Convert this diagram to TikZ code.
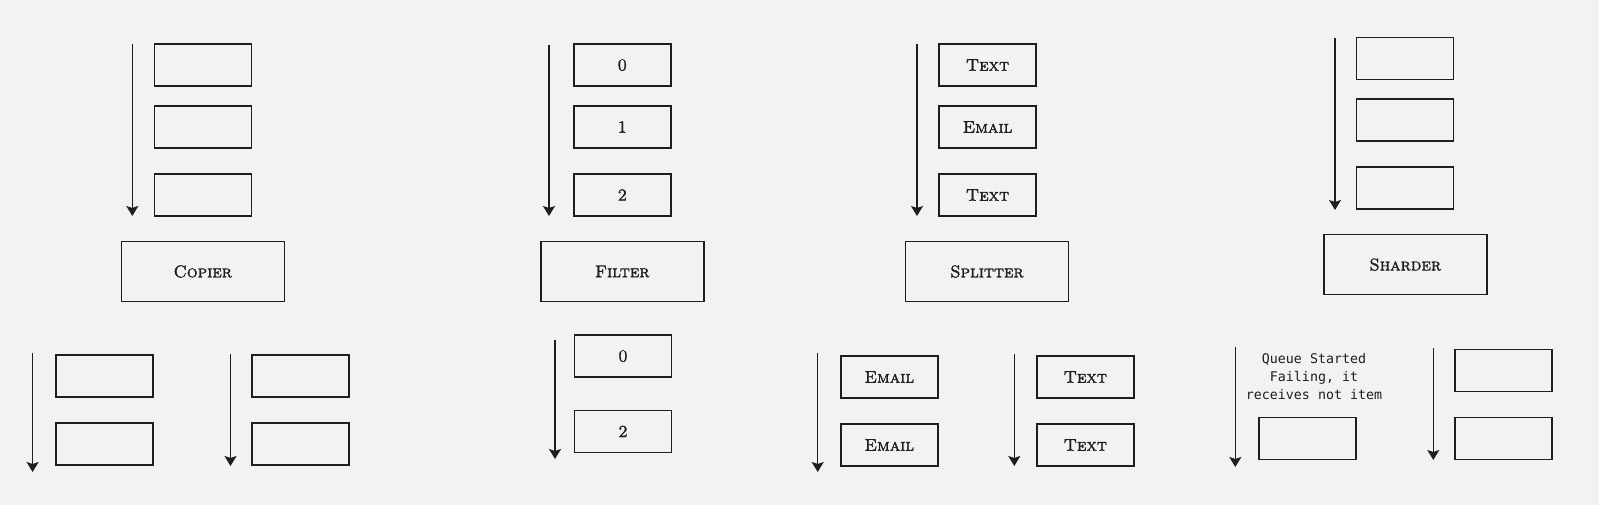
\documentclass[tikz,border=0pt]{standalone}
\usepackage{fontspec}
\newfontfamily\monofont{DejaVu Sans Mono}
\newfontfamily\handfont[FakeBold=1.6]{lmromancaps10-regular.otf}
\usetikzlibrary{arrows.meta}
\definecolor{bg}{HTML}{F2F2F2}
\definecolor{ink}{HTML}{1E1E1E}
\tikzset{
  item/.style={draw=ink, line width=1.5pt, rectangle, minimum width=97pt, minimum height=42pt, inner sep=0pt,
    font=\fontsize{17}{20}\handfont, text=ink},
  proc/.style={draw=ink, line width=1.5pt, rectangle, minimum width=163pt, minimum height=60pt, inner sep=0pt,
    font=\fontsize{17}{20}\handfont, text=ink},
  flow/.style={draw=ink, line width=1.4pt, -{Stealth[width=12pt,length=10pt,inset=2pt]}},
  note/.style={align=center, font=\fontsize{13.3}{18}\selectfont\monofont, text=ink, inner sep=0pt}
}
\begin{document}
\begin{tikzpicture}[x=1pt,y=-1pt]
\fill[bg] (0,0) rectangle (1599,505);
\useasboundingbox (0,0) rectangle (1599,505);
% ---- Copier column
\coordinate (ca1) at (132.3,44); \coordinate (ca2) at (132.3,216);
\draw[flow] (ca1) -- (ca2);
\node[item] (c1) at (202.8,65) {};
\node[item] (c2) at (202.8,127) {};
\node[item] (c3) at (202.8,195) {};
\node[proc] (copier) at (202.8,271.5) {Copier};
\coordinate (cb1) at (32.6,353); \coordinate (cb2) at (32.6,472);
\draw[flow] (cb1) -- (cb2);
\node[item] (co1) at (104.5,376) {};
\node[item] (co2) at (104.5,444) {};
\coordinate (cc1) at (230.5,354); \coordinate (cc2) at (230.5,466);
\draw[flow] (cc1) -- (cc2);
\node[item] (co3) at (300.4,376) {};
\node[item] (co4) at (300.4,444) {};
% ---- Filter column
\coordinate (fa1) at (549,45); \coordinate (fa2) at (549,216);
\draw[flow] (fa1) -- (fa2);
\node[item] (f1) at (622.3,65) {0};
\node[item] (f2) at (622.3,127) {1};
\node[item] (f3) at (622.3,195) {2};
\node[proc] (filter) at (622.3,271.5) {Filter};
\coordinate (fb1) at (555,340); \coordinate (fb2) at (555,459);
\draw[flow] (fb1) -- (fb2);
\node[item] (fo1) at (623,356) {0};
\node[item] (fo2) at (623,431.4) {2};
% ---- Splitter column
\coordinate (sa1) at (917,44); \coordinate (sa2) at (917,216);
\draw[flow] (sa1) -- (sa2);
\node[item] (s1) at (987.5,65) {Text};
\node[item] (s2) at (987.5,127) {Email};
\node[item] (s3) at (987.5,195) {Text};
\node[proc] (splitter) at (987,271.5) {Splitter};
\coordinate (sb1) at (817.7,353); \coordinate (sb2) at (817.7,472);
\draw[flow] (sb1) -- (sb2);
\node[item] (so1) at (889.3,377) {Email};
\node[item] (so2) at (889.3,445) {Email};
\coordinate (sc1) at (1014.3,354); \coordinate (sc2) at (1014.3,466);
\draw[flow] (sc1) -- (sc2);
\node[item] (so3) at (1085.3,377) {Text};
\node[item] (so4) at (1085.3,445) {Text};
% ---- Sharder column
\coordinate (ha1) at (1335,38); \coordinate (ha2) at (1335,210);
\draw[flow] (ha1) -- (ha2);
\node[item] (h1) at (1405,58.6) {};
\node[item] (h2) at (1405,120) {};
\node[item] (h3) at (1405,188) {};
\node[proc] (sharder) at (1405.3,264.6) {Sharder};
\coordinate (hb1) at (1235.3,347); \coordinate (hb2) at (1235.3,467);
\draw[flow] (hb1) -- (hb2);
\node[note] (fail) at (1314,377) {Queue Started\\Failing, it\\receives not item};
\node[item] (ho1) at (1307.5,438.3) {};
\coordinate (hc1) at (1433.3,348); \coordinate (hc2) at (1433.3,460);
\draw[flow] (hc1) -- (hc2);
\node[item] (ho2) at (1503.5,370.3) {};
\node[item] (ho3) at (1503.5,438.3) {};
\end{tikzpicture}
\end{document}
